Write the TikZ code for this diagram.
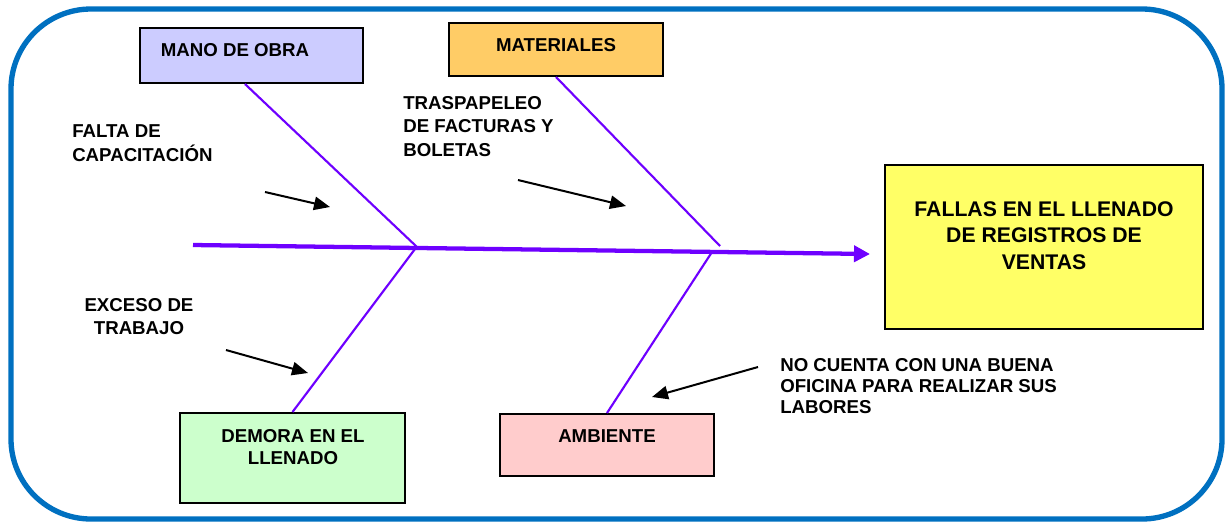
\documentclass[tikz,border=0pt]{standalone}
\usepackage{fontspec}
\setmainfont{Liberation Sans}
\usetikzlibrary{arrows.meta,calc}
\definecolor{frameblue}{RGB}{0,112,192}
\definecolor{bonepurple}{RGB}{110,0,255}
\definecolor{lav}{RGB}{204,204,255}
\definecolor{matorange}{RGB}{255,204,102}
\definecolor{lgreen}{RGB}{204,255,204}
\definecolor{lpink}{RGB}{255,204,204}
\definecolor{lyellow}{RGB}{255,255,102}
\tikzset{
  catbox/.style={draw=black, line width=1.5pt, inner sep=0pt},
  lbl/.style={inner sep=0pt, font=\bfseries\fontsize{14}{17.6}\selectfont},
  bone/.style={draw=bonepurple, line width=1.6pt},
  spine/.style={draw=bonepurple, line width=3.2pt, -{Triangle[length=12pt,width=12pt]}},
  cause/.style={draw=black, line width=1.5pt, -{Triangle[length=12pt,width=10pt]}}
}
\begin{document}
\begin{tikzpicture}[x=0.75pt,y=-0.75pt]
\useasboundingbox (0,0) rectangle (1226,522);
% frame
\draw[frameblue, line width=4pt, rounded corners=60pt] (11,9) rectangle (1222,519);

% category boxes
\node[catbox, fill=lav, minimum width=167.25pt, minimum height=41.25pt] (mano) at (251.5,55.5) {};
\node[catbox, fill=matorange, minimum width=160.5pt, minimum height=39.75pt] (mat) at (556,49.5) {};
\node[catbox, fill=lgreen, minimum width=168.75pt, minimum height=67.5pt] (demora) at (292.5,458) {};
\node[catbox, fill=lpink, minimum width=160.5pt, minimum height=46.5pt] (amb) at (607,445) {};
\node[catbox, fill=lyellow, minimum width=238.5pt, minimum height=123pt] (fallas) at (1044,247) {};

% box texts
\node[lbl] (tmano) at (235,50) {MANO DE OBRA};
\node[lbl] (tmat) at (556,45) {MATERIALES};
\node[lbl, align=center, font=\bfseries\fontsize{14}{16.5}\selectfont] (tdemora) at (293,447) {DEMORA EN EL\\LLENADO};
\node[lbl] (tamb) at (607,436) {AMBIENTE};
\node[lbl, align=center, font=\bfseries\fontsize{15.9}{19.9}\selectfont] (tfallas) at (1044,235.5) {FALLAS EN EL LLENADO\\DE REGISTROS DE\\VENTAS};

% spine
\coordinate (tail) at (193,245);
\coordinate (head) at (870,254);
\draw[spine] (tail) -- (head);

% bones
\coordinate (j1) at (417,247);
\coordinate (j2) at (720,246);
\coordinate (j3) at (415,249);
\coordinate (j4) at (712,252);
\draw[bone] ([xshift=-4.9pt]mano.south) -- (j1);
\draw[bone] (mat.south) -- (j2);
\draw[bone] (demora.north) -- (j3);
\draw[bone] (amb.north) -- (j4);

% cause texts
\node[lbl, align=left, anchor=west] (c1) at (72,143) {FALTA DE\\CAPACITACIÓN};
\node[lbl, align=left, anchor=west] (c2) at (403,126.5) {TRASPAPELEO\\DE FACTURAS Y\\BOLETAS};
\node[lbl, align=center, font=\bfseries\fontsize{14}{17.25}\selectfont] (c3) at (139,316.5) {EXCESO DE\\TRABAJO};
\node[lbl, align=left, anchor=west, font=\bfseries\fontsize{14}{15.75}\selectfont] (c4) at (780,386) {NO CUENTA CON UNA BUENA\\OFICINA PARA REALIZAR SUS\\LABORES};

% cause arrows
\coordinate (a1s) at (265,192); \coordinate (a1e) at (330,207);
\coordinate (a2s) at (518,180); \coordinate (a2e) at (626,206);
\coordinate (a3s) at (226,350); \coordinate (a3e) at (308,373);
\coordinate (a4s) at (758,367); \coordinate (a4e) at (652,397);
\draw[cause] (a1s) -- (a1e);
\draw[cause] (a2s) -- (a2e);
\draw[cause] (a3s) -- (a3e);
\draw[cause] (a4s) -- (a4e);
\end{tikzpicture}
\end{document}
